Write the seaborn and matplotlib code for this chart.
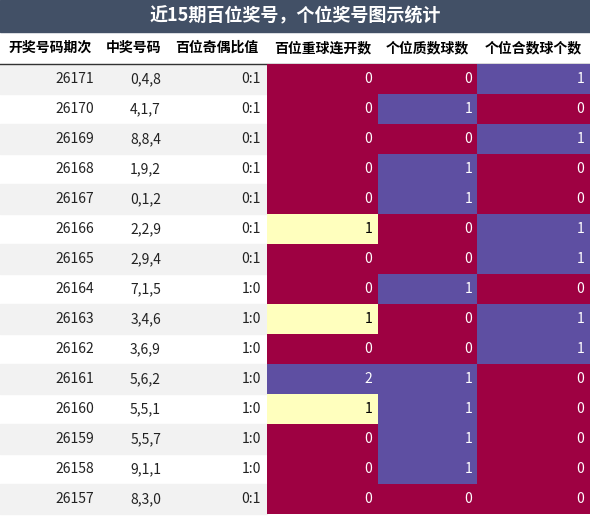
import matplotlib
matplotlib.use("Agg")
import matplotlib.pyplot as plt
import seaborn as sns
import numpy as np
import pandas as pd

plt.rcParams['font.family'] = ['Noto Sans CJK SC', 'DejaVu Sans']

title = "近15期百位奖号，个位奖号图示统计"
headers = ["开奖号码期次", "中奖号码", "百位奇偶比值", "百位重球连开数", "个位质数球数", "个位合数球个数"]
periods = [26171,26170,26169,26168,26167,26166,26165,26164,26163,26162,26161,26160,26159,26158,26157]
numbers = ["0,4,8","4,1,7","8,8,4","1,9,2","0,1,2","2,2,9","2,9,4","7,1,5","3,4,6","3,6,9","5,6,2","5,5,1","5,5,7","9,1,1","8,3,0"]
ratios = ["0:1","0:1","0:1","0:1","0:1","0:1","0:1","1:0","1:0","1:0","1:0","1:0","1:0","1:0","0:1"]
repeat = [0,0,0,0,0,1,0,0,1,0,2,1,0,0,0]
prime = [0,1,0,1,1,0,0,1,0,0,1,1,1,1,0]
composite = [1,0,1,0,0,1,1,0,1,1,0,0,0,0,0]

W, H = 590, 516
fig = plt.figure(figsize=(W/100, H/100), dpi=100)
edges = [0, 100, 167, 267, 378, 477, 590]
top_title, top_head, row_h = 32, 64, 30
n = len(periods)

def fx(px): return px / W
def fy(py): return 1 - py / H

# background axes
bg = fig.add_axes([0, 0, 1, 1])
bg.set_xlim(0, W); bg.set_ylim(H, 0); bg.axis('off')
bg.add_patch(plt.Rectangle((0, 0), W, top_title, color='#425066'))
bg.text(W/2, top_title/2, title, color='white', ha='center', va='center', fontsize=13, fontweight='bold')
for j, h in enumerate(headers):
    bg.text((edges[j]+edges[j+1])/2, (top_title+top_head)/2, h, ha='center', va='center', fontsize=10, fontweight='bold')
bg.plot([0, W], [top_head, top_head], color='#333333', lw=1)
for i in range(n):
    y0 = top_head + i*row_h
    if i % 2 == 0:
        bg.add_patch(plt.Rectangle((0, y0), edges[3], row_h, color='#f2f2f2'))
    yc = y0 + row_h/2
    for j, val in enumerate([str(periods[i]), numbers[i], ratios[i]]):
        bg.text(edges[j+1]-6, yc, val, ha='right', va='center', fontsize=10, color='#222222')

# heatmap columns
for k, vals in enumerate([repeat, prime, composite]):
    x0, x1 = edges[3+k], edges[4+k]
    ax = fig.add_axes([fx(x0), fy(top_head + n*row_h), fx(x1-x0), (n*row_h)/H])
    arr = np.array(vals, dtype=float).reshape(-1, 1)
    norm = arr / arr.max()
    sns.heatmap(pd.DataFrame(norm), ax=ax, cmap='Spectral', vmin=0, vmax=1, cbar=False,
                xticklabels=False, yticklabels=False)
    ax.axis('off')
    for i, v in enumerate(vals):
        c = 'black' if norm[i, 0] == 0.5 else 'white'
        ax.text(0.95, i+0.5, str(v), ha='right', va='center', fontsize=10, color=c)

fig.savefig("out.png", dpi=100)
